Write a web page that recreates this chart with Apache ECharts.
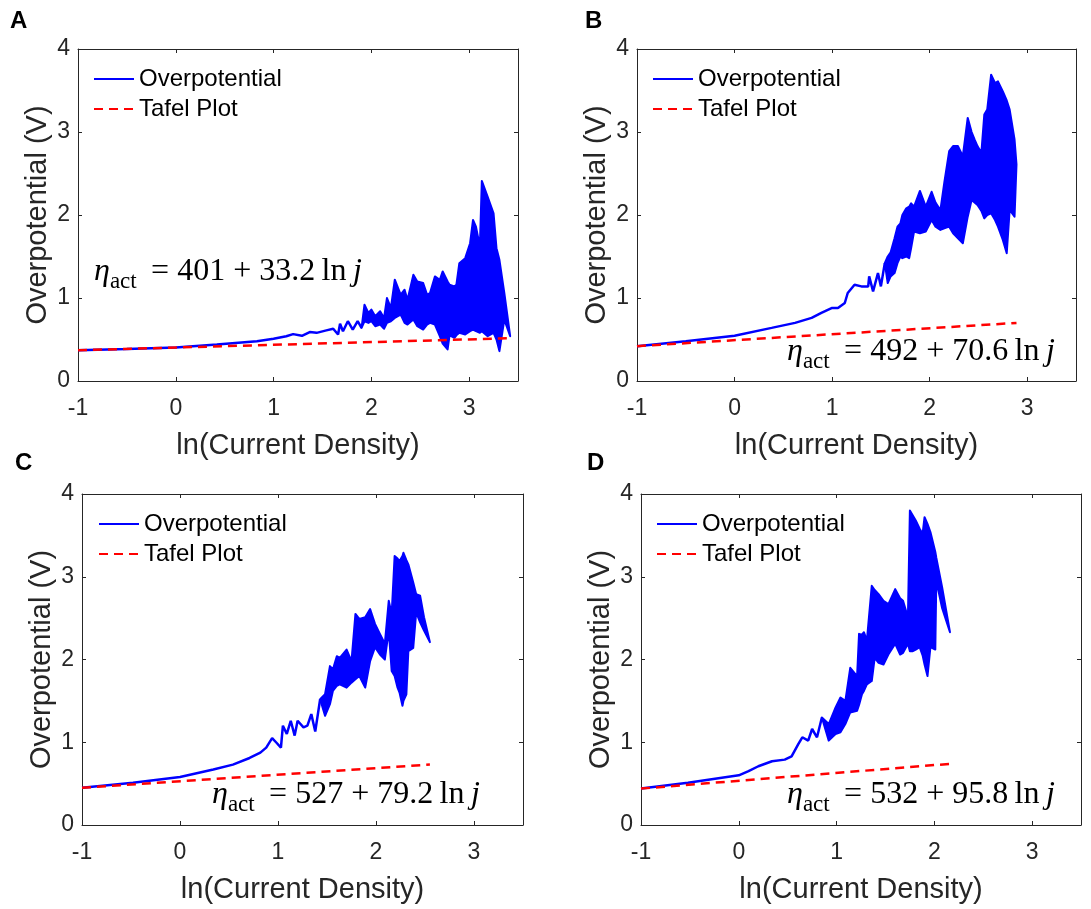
<!DOCTYPE html>
<html>
<head>
<meta charset="utf-8">
<script src="https://cdn.jsdelivr.net/npm/echarts@6/dist/echarts.min.js"></script>
<style>
html,body{margin:0;padding:0;background:#fff;}
#chart{width:1091px;height:909px;}
</style>
</head>
<body>
<div id="chart"></div>
<script>
// ---------------- DATA ----------------
// Panel A
const aLineX = [-1, -0.5, 0, 0.42, 0.83, 1.0, 1.13, 1.2, 1.29, 1.37, 1.44, 1.54, 1.61, 1.66, 1.68, 1.71, 1.76, 1.81, 1.86, 1.90];
const aLineY = [0.37, 0.385, 0.405, 0.44, 0.48, 0.51, 0.54, 0.565, 0.545, 0.59, 0.58, 0.61, 0.63, 0.56, 0.69, 0.60, 0.72, 0.62, 0.72, 0.64];
const aBandX  = [1.90, 1.93, 1.97, 2.00, 2.04, 2.09, 2.13, 2.16, 2.20, 2.24, 2.30, 2.34, 2.37, 2.43, 2.47, 2.53, 2.57, 2.60, 2.65, 2.70, 2.73, 2.78, 2.80, 2.85, 2.87, 2.90, 2.96, 3.01, 3.04, 3.07, 3.11, 3.13, 3.19, 3.25, 3.28, 3.31, 3.36, 3.42];
const aBandHi = [0.64, 0.92, 0.82, 0.86, 0.78, 0.84, 0.76, 1.00, 0.88, 1.22, 1.04, 1.10, 0.98, 1.28, 1.20, 1.18, 1.04, 1.06, 1.26, 1.22, 1.32, 1.20, 1.16, 1.14, 1.16, 1.42, 1.48, 1.66, 1.94, 1.86, 1.62, 2.41, 2.22, 2.02, 1.60, 1.46, 1.06, 0.54];
const aBandLo = [0.64, 0.72, 0.70, 0.72, 0.66, 0.68, 0.63, 0.70, 0.72, 0.76, 0.80, 0.70, 0.68, 0.74, 0.66, 0.62, 0.68, 0.70, 0.68, 0.54, 0.45, 0.38, 0.55, 0.52, 0.55, 0.58, 0.56, 0.60, 0.62, 0.60, 0.58, 0.60, 0.54, 0.58, 0.50, 0.36, 0.74, 0.54];
const aTafelX = [-1, 3.42];
const aTafelY = [0.37, 0.515];

// Panel B
const bLineX = [-1, -0.5, 0, 0.38, 0.62, 0.79, 0.89, 1.0, 1.06, 1.13, 1.16, 1.23, 1.30, 1.37, 1.38, 1.42, 1.47, 1.50, 1.54];
const bLineY = [0.42, 0.48, 0.546, 0.64, 0.70, 0.76, 0.82, 0.88, 0.88, 0.94, 1.06, 1.16, 1.14, 1.14, 1.26, 1.08, 1.30, 1.14, 1.42];
const bBandX  = [1.54, 1.57, 1.60, 1.64, 1.67, 1.70, 1.72, 1.76, 1.79, 1.81, 1.84, 1.90, 1.96, 2.02, 2.06, 2.11, 2.15, 2.20, 2.24, 2.29, 2.34, 2.39, 2.43, 2.46, 2.49, 2.53, 2.56, 2.59, 2.63, 2.67, 2.70, 2.75, 2.79, 2.82, 2.87, 2.89];
const bBandHi = [1.42, 1.50, 1.55, 1.72, 1.86, 1.90, 2.0, 2.08, 2.10, 2.14, 2.10, 2.29, 2.10, 2.28, 2.15, 2.06, 2.39, 2.77, 2.83, 2.83, 2.71, 3.17, 3.0, 2.91, 2.83, 2.75, 3.21, 3.27, 3.69, 3.59, 3.61, 3.49, 3.38, 3.27, 2.91, 2.61];
const bBandLo = [1.42, 1.18, 1.26, 1.30, 1.42, 1.50, 1.48, 1.50, 1.48, 1.60, 1.80, 1.78, 1.80, 1.94, 1.86, 1.82, 1.84, 1.86, 1.78, 1.72, 1.66, 1.98, 2.18, 2.15, 2.12, 2.05, 1.96, 2.0, 2.02, 1.94, 1.86, 1.70, 1.54, 2.06, 1.98, 2.61];
const bTafelX = [-1, 2.89];
const bTafelY = [0.42, 0.70];

// Panel C
const cLineX = [-1, -0.48, 0, 0.34, 0.54, 0.71, 0.82, 0.88, 0.94, 0.98, 1.03, 1.05, 1.09, 1.13, 1.17, 1.20, 1.26, 1.30, 1.34, 1.38, 1.43];
const cLineY = [0.45, 0.51, 0.58, 0.67, 0.73, 0.81, 0.875, 0.935, 1.05, 1.0, 0.935, 1.20, 1.10, 1.26, 1.08, 1.26, 1.18, 1.20, 1.34, 1.13, 1.52];
const cBandX  = [1.43, 1.48, 1.53, 1.56, 1.60, 1.63, 1.70, 1.75, 1.79, 1.83, 1.89, 1.94, 1.99, 2.04, 2.09, 2.13, 2.16, 2.19, 2.22, 2.24, 2.27, 2.28, 2.31, 2.33, 2.38, 2.41, 2.45, 2.49, 2.55];
const cBandHi = [1.52, 1.58, 1.92, 1.88, 2.04, 2.02, 2.12, 1.98, 2.55, 2.49, 2.51, 2.61, 2.43, 2.31, 2.19, 2.71, 2.55, 3.25, 3.22, 3.19, 3.25, 3.29, 3.20, 3.15, 2.93, 2.79, 2.77, 2.51, 2.21];
const cBandLo = [1.52, 1.32, 1.46, 1.62, 1.68, 1.70, 1.66, 1.72, 1.76, 1.80, 1.66, 1.98, 2.15, 2.06, 2.00, 2.35, 1.86, 1.80, 1.66, 1.60, 1.44, 1.50, 1.58, 2.10, 2.14, 2.57, 2.45, 2.35, 2.21];
const cTafelX = [-1, 2.55];
const cTafelY = [0.45, 0.73];

// Panel D
const dLineX = [-1, -0.52, 0, 0.10, 0.20, 0.34, 0.47, 0.54, 0.61, 0.65, 0.71, 0.75, 0.80, 0.85];
const dLineY = [0.44, 0.51, 0.60, 0.65, 0.71, 0.77, 0.79, 0.83, 0.98, 1.06, 1.02, 1.16, 1.06, 1.30];
const dBandX  = [0.85, 0.92, 0.99, 1.04, 1.09, 1.14, 1.21, 1.23, 1.26, 1.28, 1.31, 1.36, 1.39, 1.43, 1.48, 1.53, 1.60, 1.65, 1.68, 1.73, 1.75, 1.78, 1.81, 1.85, 1.88, 1.90, 1.93, 1.96, 2.01, 2.02, 2.08, 2.16];
const dBandHi = [1.30, 1.22, 1.42, 1.54, 1.50, 1.90, 1.80, 2.31, 2.30, 2.33, 2.23, 2.89, 2.84, 2.79, 2.71, 2.67, 2.85, 2.74, 2.71, 2.51, 3.80, 3.74, 3.68, 3.58, 3.52, 3.72, 3.64, 3.54, 3.30, 3.23, 2.87, 2.33];
const dBandLo = [1.30, 1.02, 1.10, 1.12, 1.22, 1.36, 1.38, 1.45, 1.58, 1.62, 1.70, 1.74, 2.02, 1.96, 1.94, 2.06, 2.19, 2.06, 2.08, 2.19, 2.10, 2.10, 2.12, 2.15, 2.05, 1.94, 1.80, 2.15, 2.12, 2.95, 2.62, 2.33];
const dTafelX = [-1, 2.17];
const dTafelY = [0.44, 0.74];

// Labels
const panelLetters = ['A', 'B', 'C', 'D'];
const equations = [
  ['401', '33.2'],
  ['492', '70.6'],
  ['527', '79.2'],
  ['532', '95.8']
];
const xAxisTitle = 'ln(Current Density)';
const yAxisTitle = 'Overpotential (V)';
const legendNames = ['Overpotential', 'Tafel Plot'];

// ---------------- LAYOUT ----------------
const grids = [
  {left: 78,  top: 49,  width: 440, height: 332},
  {left: 637, top: 49,  width: 439, height: 332},
  {left: 82,  top: 494, width: 441, height: 331},
  {left: 641, top: 494, width: 440, height: 331}
];
const letterPos = [[10, 9], [585, 9], [15, 451], [587, 451]];
const eqPos = [[94, 272], [787, 352], [212, 795], [787, 795]];
const legendPos = [[93, 67], [652, 67], [98, 512], [656, 512]];

const panels = [
  {lx: aLineX, ly: aLineY, bx: aBandX, bh: aBandHi, bl: aBandLo, tx: aTafelX, ty: aTafelY},
  {lx: bLineX, ly: bLineY, bx: bBandX, bh: bBandHi, bl: bBandLo, tx: bTafelX, ty: bTafelY},
  {lx: cLineX, ly: cLineY, bx: cBandX, bh: cBandHi, bl: cBandLo, tx: cTafelX, ty: cTafelY},
  {lx: dLineX, ly: dLineY, bx: dBandX, bh: dBandHi, bl: dBandLo, tx: dTafelX, ty: dTafelY}
];

const AXC = '#262626';
const SANS = 'Liberation Sans, Arial, Helvetica, sans-serif';
const SERIF = 'Liberation Serif, Times New Roman, serif';
const BLUE = '#0000ff';
const RED = '#ff0000';

const xAxes = [], yAxes = [], series = [], legends = [], graphics = [];

function zip(xs, ys) { return xs.map((x, i) => [x, ys[i]]); }

function bandRenderer(xs, hi, lo) {
  return function (params, api) {
    if (params.dataIndex !== 0) return null;
    const pts = [];
    for (let i = 0; i < xs.length; i++) pts.push(api.coord([xs[i], hi[i]]));
    for (let i = xs.length - 1; i >= 0; i--) pts.push(api.coord([xs[i], lo[i]]));
    return {
      type: 'polygon',
      shape: {points: pts},
      style: {fill: BLUE, stroke: BLUE, lineWidth: 2, lineJoin: 'round'}
    };
  };
}

panels.forEach((p, k) => {
  xAxes.push({
    gridIndex: k, type: 'value', position: 'bottom', min: -1, max: 3.5, interval: 1,
    axisLine: {show: true, onZero: false, lineStyle: {color: AXC, width: 1}},
    axisTick: {show: true, inside: true, length: 4, lineStyle: {color: AXC}},
    axisLabel: {show: true, fontSize: 23, color: AXC, fontFamily: SANS, margin: 16,
      formatter: v => (Math.abs(v - Math.round(v)) < 1e-9 ? String(Math.round(v)) : '')},
    splitLine: {show: false},
    name: xAxisTitle, nameLocation: 'middle', nameGap: 50,
    nameTextStyle: {fontSize: 29, color: AXC, fontFamily: SANS}
  });
  xAxes.push({
    gridIndex: k, type: 'value', position: 'top', min: -1, max: 3.5, interval: 1,
    axisLine: {show: true, onZero: false, lineStyle: {color: AXC, width: 1}},
    axisTick: {show: true, inside: true, length: 4, lineStyle: {color: AXC}},
    axisLabel: {show: false}, splitLine: {show: false}
  });
  yAxes.push({
    gridIndex: k, type: 'value', position: 'left', min: 0, max: 4, interval: 1,
    axisLine: {show: true, onZero: false, lineStyle: {color: AXC, width: 1}},
    axisTick: {show: true, inside: true, length: 4, lineStyle: {color: AXC}},
    axisLabel: {show: true, fontSize: 23, color: AXC, fontFamily: SANS, margin: 8},
    splitLine: {show: false},
    name: yAxisTitle, nameLocation: 'middle', nameGap: 26,
    nameTextStyle: {fontSize: 29, color: AXC, fontFamily: SANS}
  });
  yAxes.push({
    gridIndex: k, type: 'value', position: 'right', min: 0, max: 4, interval: 1,
    axisLine: {show: true, onZero: false, lineStyle: {color: AXC, width: 1}},
    axisTick: {show: true, inside: true, length: 4, lineStyle: {color: AXC}},
    axisLabel: {show: false}, splitLine: {show: false}
  });

  series.push({
    name: legendNames[0], type: 'line', xAxisIndex: 2 * k, yAxisIndex: 2 * k,
    data: zip(p.lx, p.ly), showSymbol: false, symbol: 'none',
    lineStyle: {color: BLUE, width: 2.5}, itemStyle: {color: BLUE},
    z: 3, animation: false
  });
  series.push({
    type: 'custom', xAxisIndex: 2 * k, yAxisIndex: 2 * k,
    data: p.bx.map((x, i) => [x, p.bh[i], p.bl[i]]),
    encode: {x: 0, y: [1, 2]},
    renderItem: bandRenderer(p.bx, p.bh, p.bl),
    z: 3, animation: false, silent: true
  });
  series.push({
    name: legendNames[1], type: 'line', xAxisIndex: 2 * k, yAxisIndex: 2 * k,
    data: zip(p.tx, p.ty), showSymbol: false, symbol: 'none',
    lineStyle: {color: RED, width: 2.5, type: [9, 6]}, itemStyle: {color: RED},
    z: 4, animation: false
  });

  legends.push({
    orient: 'vertical', left: legendPos[k][0], top: legendPos[k][1], padding: 0,
    itemWidth: 40, itemHeight: 12, itemGap: 6, selectedMode: false,
    itemStyle: {opacity: 0},
    data: legendNames,
    textStyle: {fontSize: 24, color: '#000', fontFamily: SANS, lineHeight: 24}
  });

  graphics.push({
    type: 'text', x: letterPos[k][0], y: letterPos[k][1],
    style: {text: panelLetters[k], fontSize: 24, fontWeight: 'bold', fontFamily: SANS, fill: '#000',
      align: 'left', verticalAlign: 'top'}
  });
  const e = equations[k];
  graphics.push({
    type: 'text', x: eqPos[k][0], y: eqPos[k][1],
    style: {
      text: '{e|η}{s|act}{m|\u2009 = ' + e[0] + ' + ' + e[1] + '\u2009ln\u2009}{j|j}',
      align: 'left', verticalAlign: 'middle',
      rich: {
        e: {fontFamily: SERIF, fontStyle: 'italic', fontSize: 32, lineHeight: 42, fill: '#000'},
        s: {fontFamily: SERIF, fontSize: 23, lineHeight: 23, verticalAlign: 'bottom', fill: '#000'},
        m: {fontFamily: SERIF, fontSize: 32, lineHeight: 42, fill: '#000'},
        j: {fontFamily: SERIF, fontStyle: 'italic', fontSize: 32, lineHeight: 42, fill: '#000'}
      }
    }
  });
});

const chart = echarts.init(document.getElementById('chart'), null, {renderer: 'canvas'});
chart.setOption({
  backgroundColor: '#ffffff',
  animation: false,
  grid: grids.map(g => Object.assign({containLabel: false}, g)),
  xAxis: xAxes,
  yAxis: yAxes,
  legend: legends,
  series: series,
  graphic: graphics
});
</script>
</body>
</html>
